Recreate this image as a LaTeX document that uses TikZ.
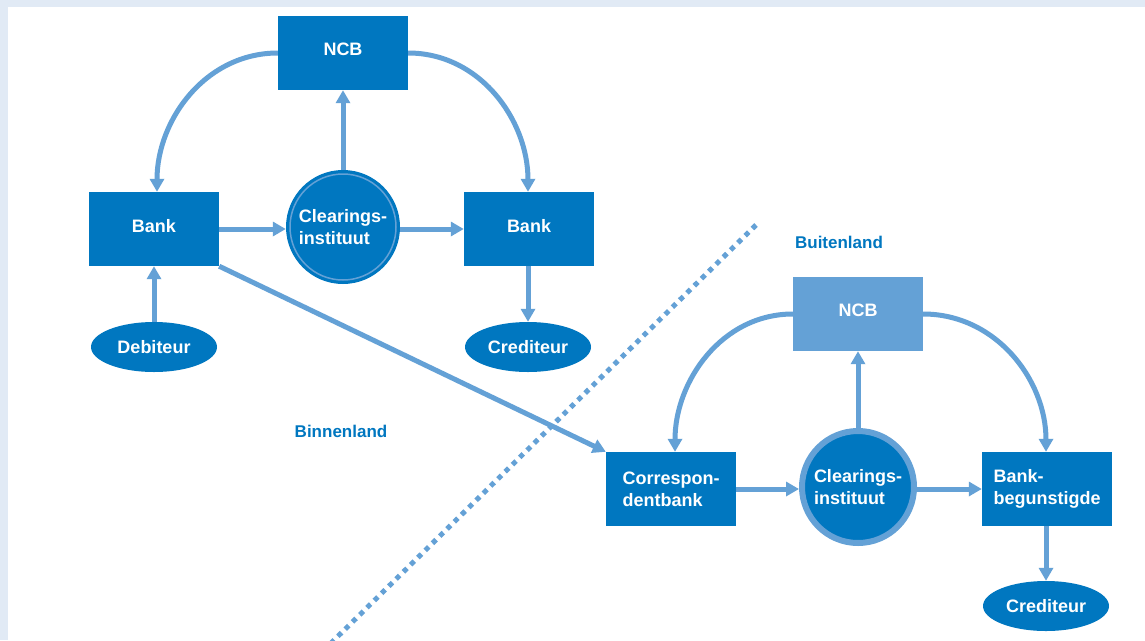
\documentclass[tikz,border=0pt]{standalone}
\usepackage{fontspec}
\setmainfont{Liberation Sans}
\usetikzlibrary{arrows.meta,shapes.geometric}
\definecolor{dnbblue}{RGB}{0,119,192}
\definecolor{flowblue}{RGB}{100,161,214}
\definecolor{framebg}{RGB}{225,234,245}
\begin{document}
\begin{tikzpicture}[x=1pt,y=1pt,
  font=\fontsize{18}{22}\selectfont\bfseries,
  box/.style={rectangle, fill=dnbblue, text=white, minimum width=130pt,
    minimum height=74pt, inner sep=0pt, align=left},
  party/.style={ellipse, fill=dnbblue, text=white, minimum width=126pt,
    minimum height=50pt, inner sep=0pt},
  hub/.style={circle, fill=dnbblue, text=white, inner sep=0pt, align=left},
  flow/.style={draw=flowblue, line width=5pt, -{Triangle[length=13pt,width=14pt]}},
  region/.style={text=dnbblue, font=\fontsize{17}{20}\selectfont\bfseries}
]
% page frame
\useasboundingbox (0,0) rectangle (1145,-640);
\fill[framebg] (0,0) rectangle (1145,-640);
\fill[white] (8,-7) rectangle (1145,-640);

% border line between the two countries
\coordinate (borderTop) at (756,-225);
\coordinate (borderBot) at (328,-646);
\begin{scope}
  \clip (8,-7) rectangle (1145,-640);
  \draw[flowblue, line width=5pt, dash pattern=on 5pt off 5.2pt] (borderTop) -- (borderBot);
\end{scope}

% domestic side
\node[box] (ncbL) at (343,-53) {\raisebox{7pt}{NCB}};
\node[box] (bankL) at (154,-229) {\raisebox{7pt}{Bank}};
\node[hub, minimum size=114pt] (hubL) at (343,-227) {Clearings-\\instituut};
\draw[flowblue, line width=1.5pt] (hubL.center) circle (53pt);
\node[box] (bankR) at (529,-229) {\raisebox{7pt}{Bank}};
\node[party] (debit) at (154,-347) {Debiteur};
\node[party] (credL) at (528,-347) {Crediteur};

% foreign side
\node[box, fill=flowblue] (ncbR) at (858,-314) {\raisebox{7pt}{NCB}};
\node[box] (corr) at (671,-489) {Correspon-\\dentbank};
\node[hub, minimum size=112pt, draw=flowblue, line width=6pt] (hubR) at (858,-487) {Clearings-\\instituut};
\node[box] (bankB) at (1047,-489) {Bank-\\begunstigde};
\node[party] (credR) at (1046,-606) {Crediteur};

% region labels
\node[region] (abroad) at (839,-242) {Buitenland};
\node[region] (home) at (341,-431) {Binnenland};

% domestic flows
\draw[flow] (ncbL.west) to[out=180,in=90] ([xshift=3pt]bankL.north);
\draw[flow] (ncbL.east) to[out=0,in=90] ([xshift=-1pt]bankR.north);
\draw[flow] (bankL.east) -- (bankL.east -| hubL.west);
\draw[flow] (hubL.east |- bankR.west) -- (bankR.west);
\draw[flow] (hubL.north) -- (hubL.north |- ncbL.south);
\draw[flow] (debit.north) -- (debit.north |- bankL.south);
\draw[flow] (credL.north |- bankR.south) -- (credL.north);

% cross-border payment
\draw[flow] (bankL.south east) -- (corr.north west);

% foreign flows
\draw[flow] (ncbR.west) to[out=180,in=90] ([xshift=4pt]corr.north);
\draw[flow] (ncbR.east) to[out=0,in=90] ([xshift=-1pt]bankB.north);
\draw[flow] (corr.east) -- (corr.east -| hubR.west);
\draw[flow] (hubR.east |- bankB.west) -- (bankB.west);
\draw[flow] (hubR.north) -- (hubR.north |- ncbR.south);
\draw[flow] (credR.north |- bankB.south) -- (credR.north);
\end{tikzpicture}
\end{document}
